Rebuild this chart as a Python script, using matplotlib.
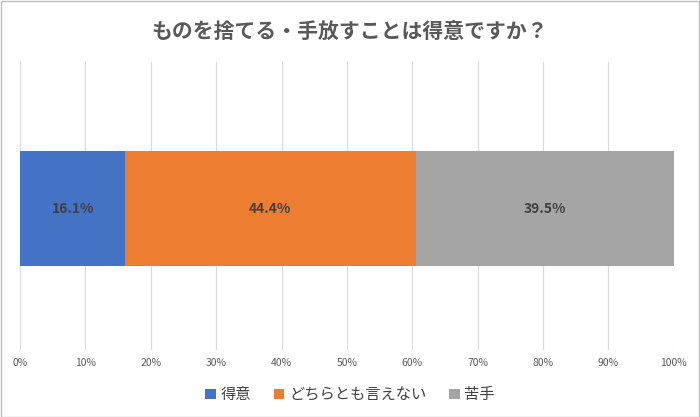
import matplotlib.pyplot as plt
from matplotlib.patches import Rectangle

plt.rcParams["font.family"] = "Noto Sans CJK JP"

title = "ものを捨てる・手放すことは得意ですか？"
labels = ["得意", "どちらとも言えない", "苦手"]
values = [16.1, 44.4, 39.5]
colors = ["#4472C4", "#ED7D31", "#A5A5A5"]
ticks = list(range(0, 101, 10))

fig = plt.figure(figsize=(7, 4.17), dpi=100)
fig.patches.append(Rectangle((0.001, 0.001), 0.998, 0.997, transform=fig.transFigure,
                             fill=False, edgecolor="#BFBFBF", linewidth=1))
ax = fig.add_axes([0.0286, 0.161, 0.934, 0.69])

left = 0
for lab, v, c in zip(labels, values, colors):
    ax.barh(0.49, v, left=left, height=0.40, color=c, label=lab, zorder=3)
    ax.text(left + v / 2, 0.49, f"{v}%", ha="center", va="center",
            fontsize=10, fontweight="bold", color="#404040", zorder=4)
    left += v

ax.set_xlim(0, 100)
ax.set_ylim(0, 1)
ax.set_xticks(ticks)
ax.set_xticklabels([f"{t}%" for t in ticks], fontsize=7.5, color="#595959")
ax.set_yticks([])
ax.grid(axis="x", color="#D9D9D9", linewidth=0.8, zorder=0)
for s in ax.spines.values():
    s.set_visible(False)
ax.tick_params(axis="x", length=0, pad=6)

fig.suptitle(title, y=0.95, fontsize=15, fontweight="bold", color="#595959")
fig.legend(loc="lower center", bbox_to_anchor=(0.5, 0.0), ncol=3, frameon=False,
           fontsize=11, handlelength=0.7, handleheight=0.7, columnspacing=1.5,
           handletextpad=0.3, labelcolor="#404040")

fig.savefig("out.png")
